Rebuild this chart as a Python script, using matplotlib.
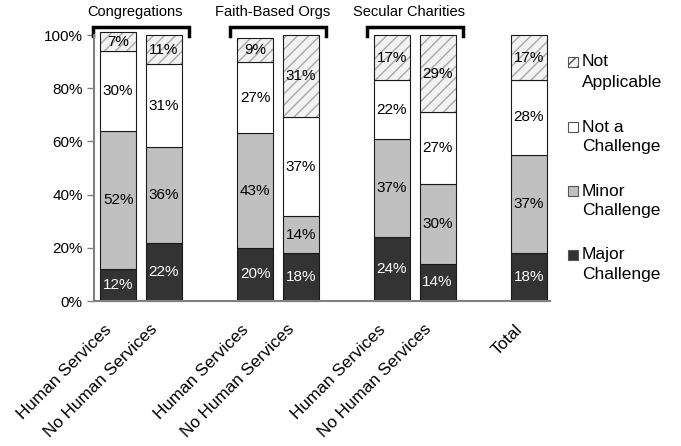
import matplotlib.pyplot as plt
from matplotlib.patches import Rectangle

plt.rcParams['font.family'] = ['Liberation Sans', 'DejaVu Sans']
plt.rcParams['hatch.linewidth'] = 1.0

# bar labels and where they sit on the x axis
bar_names = ['Human Services', 'No Human Services',
             'Human Services', 'No Human Services',
             'Human Services', 'No Human Services',
             'Total']
bar_pos = [0, 1, 3, 4, 6, 7, 9]

# brackets over the grouped bars
groups = ['Congregations', 'Faith-Based Orgs', 'Secular Charities']
group_pos = [(0, 1), (3, 4), (6, 7)]

# percentages, bottom to top
major = [12, 22, 20, 18, 24, 14, 18]
minor = [52, 36, 43, 14, 37, 30, 37]
not_challenge = [30, 31, 27, 37, 22, 27, 28]
not_applicable = [7, 11, 9, 31, 17, 29, 17]

series_names = ['Major\nChallenge', 'Minor\nChallenge', 'Not a\nChallenge', 'Not\nApplicable']
series_vals = [major, minor, not_challenge, not_applicable]
face = ['#333333', '#c0c0c0', '#ffffff', '#f2f2f2']
text_col = ['white', 'black', 'black', 'black']
edge = '#1a1a1a'
width = 0.79

fig = plt.figure(figsize=(6.81, 4.46), dpi=100)
ax = fig.add_axes([0.138, 0.325, 0.670, 0.5965])

bottom = [0] * len(bar_pos)
for i, vals in enumerate(series_vals):
    if i == 3:
        # hatch drawn in grey, outline drawn separately in black
        ax.bar(bar_pos, vals, bottom=bottom, width=width, color=face[i],
               edgecolor='#a8a8a8', linewidth=0, hatch='///', clip_on=False)
        ax.bar(bar_pos, vals, bottom=bottom, width=width, fill=False,
               edgecolor=edge, linewidth=0.8, clip_on=False)
    else:
        ax.bar(bar_pos, vals, bottom=bottom, width=width, color=face[i],
               edgecolor=edge, linewidth=0.8, clip_on=False)
    for x, b, v in zip(bar_pos, bottom, vals):
        ax.text(x, b + v / 2, f'{v}%', ha='center', va='center',
                color=text_col[i], fontsize=11)
    bottom = [b + v for b, v in zip(bottom, vals)]

ax.set_xlim(-0.53, 9.47)
ax.set_ylim(0, 100)
ax.set_yticks(range(0, 101, 20))
ax.set_yticklabels([f'{t}%' for t in range(0, 101, 20)], fontsize=11)
ax.set_xticks(bar_pos)
ax.set_xticklabels([])
ax.tick_params(axis='x', length=0)
ax.tick_params(axis='y', length=5, width=1, color='#808080', pad=3)
for s in ['top', 'right']:
    ax.spines[s].set_visible(False)
for s in ['left', 'bottom']:
    ax.spines[s].set_color('#808080')
    ax.spines[s].set_linewidth(1.5)

# slanted category labels, set a little left of each bar centre
for x, name in zip(bar_pos, bar_names):
    ax.annotate(name, xy=(x, 0), xycoords=('data', 'axes fraction'),
                xytext=(-10, -15), textcoords='offset points',
                rotation=45, ha='right', va='top', rotation_mode='anchor',
                fontsize=12.3)

# group brackets and titles
for name, (a, b) in zip(groups, group_pos):
    c = (a + b) / 2
    half = 1.05
    ax.plot([c - half, c - half, c + half, c + half], [99.5, 103, 103, 99.5],
            color='black', lw=2.5, clip_on=False, solid_joinstyle='miter')
    ax.text(c - 0.12, 108.5, name, ha='center', va='center', fontsize=10.5)

# legend, marker lined up with the first text line
W, H = 681, 446
leg_y = [62, 127, 191, 255]
for i in range(3, -1, -1):
    y = leg_y[3 - i]
    fig.patches.append(Rectangle((568 / W, 1 - (y + 5) / H), 10 / W, 10 / H,
                                 transform=fig.transFigure, facecolor=face[i],
                                 edgecolor='#555555', linewidth=0.8,
                                 hatch='///' if i == 3 else None))
    first, second = series_names[i].split('\n')
    fig.text(582 / W, 1 - y / H, first, ha='left', va='center', fontsize=12.5)
    fig.text(582 / W, 1 - (y + 20) / H, second, ha='left', va='center', fontsize=12.5)

fig.savefig('out.png', dpi=100)
